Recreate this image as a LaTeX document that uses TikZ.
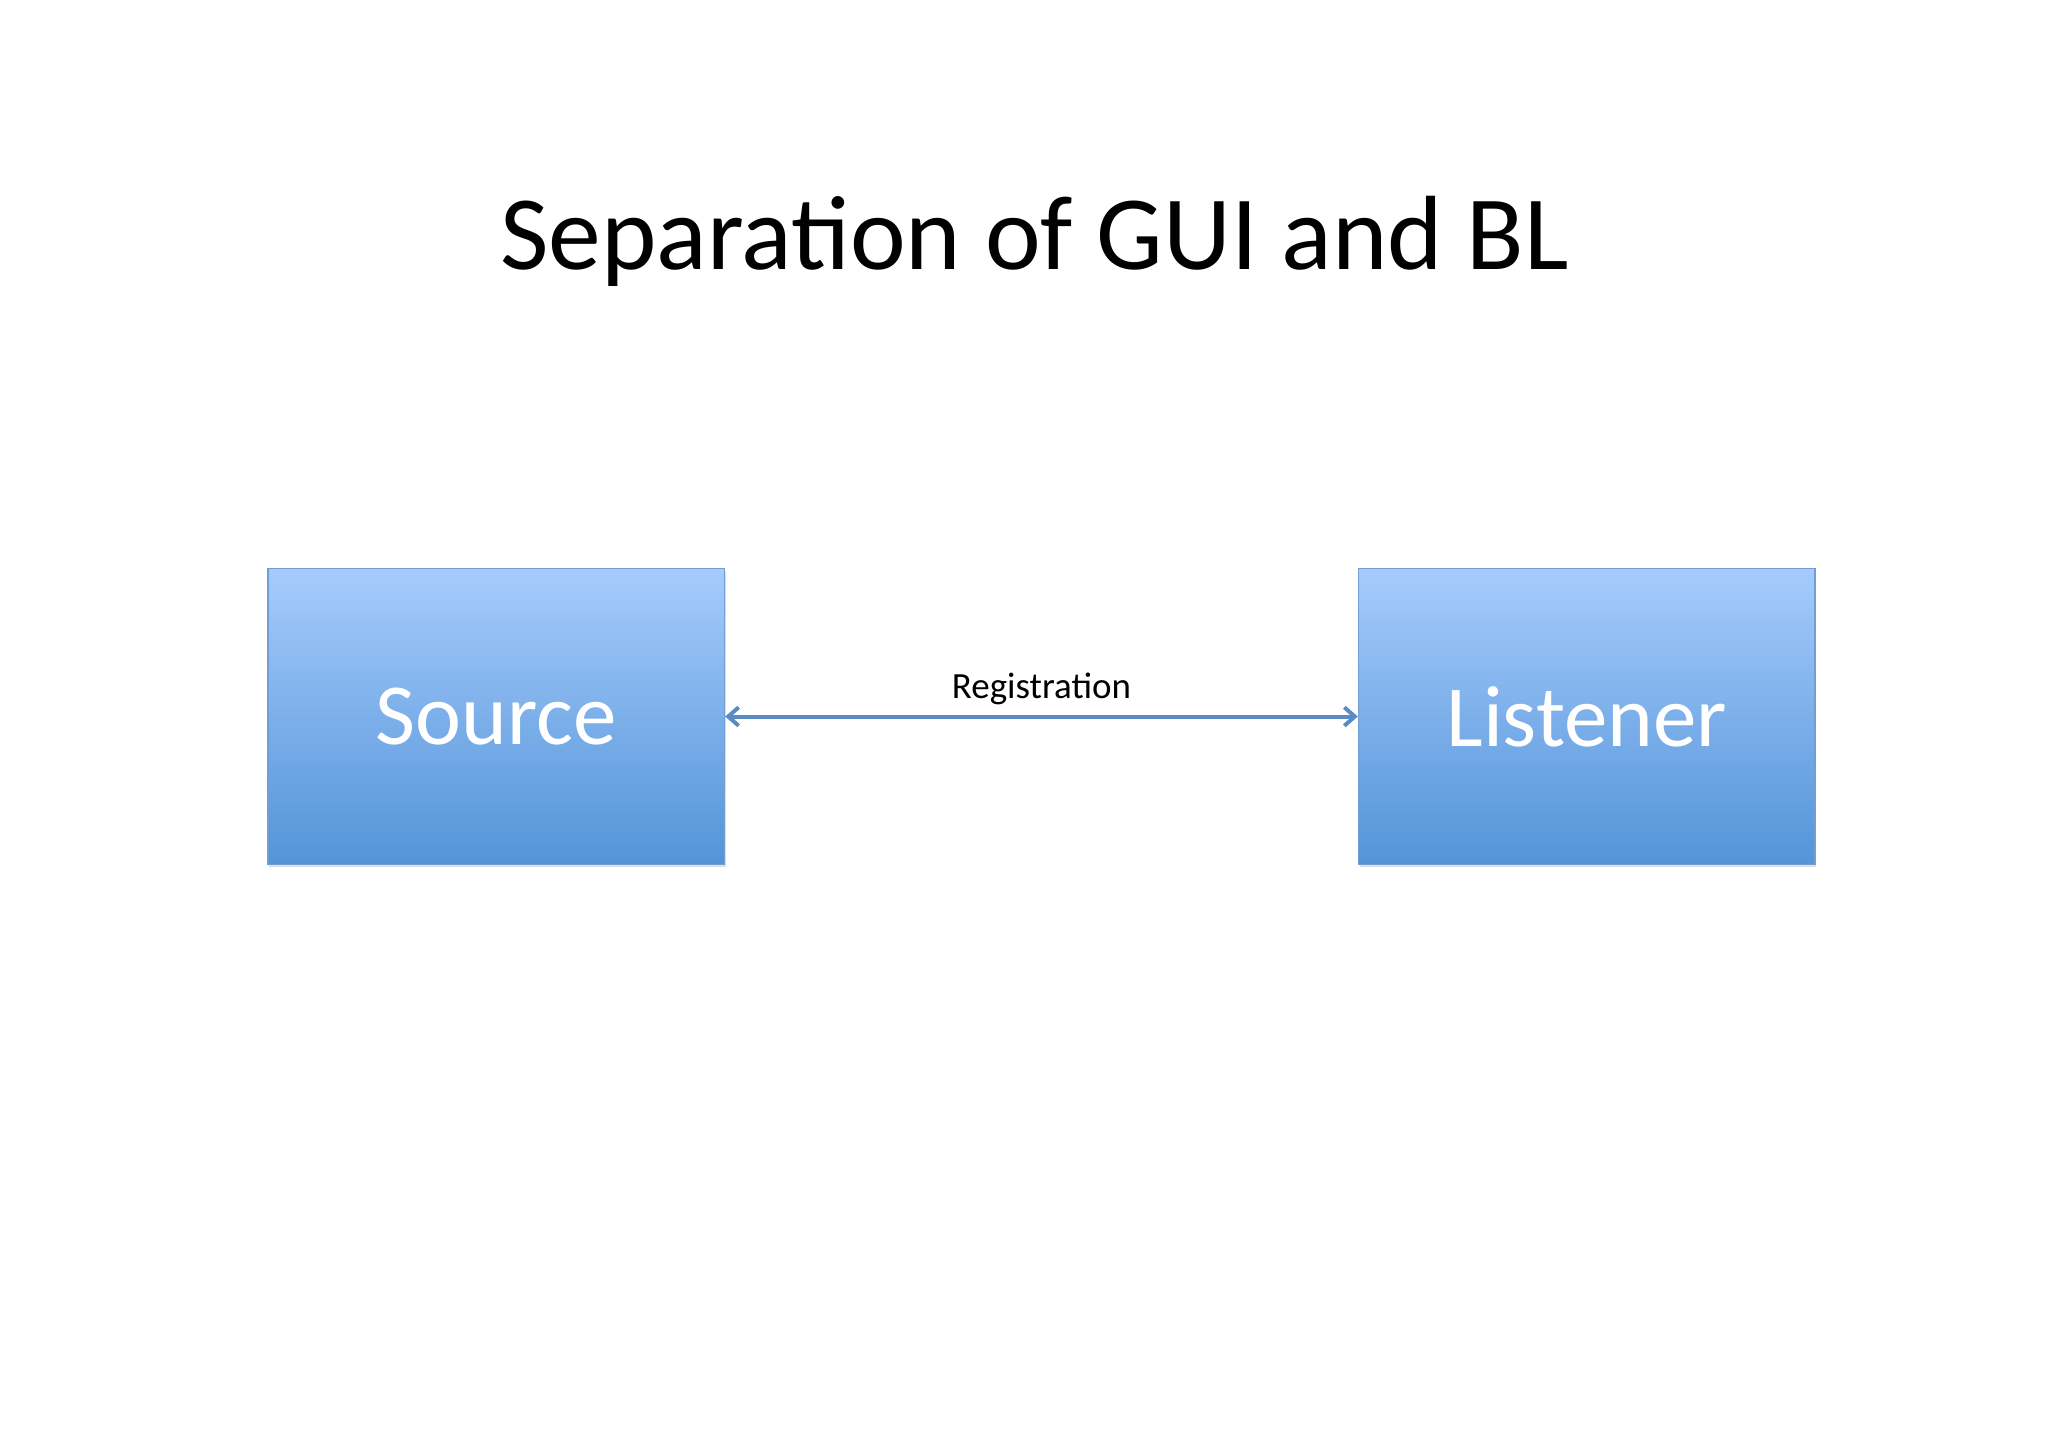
\documentclass[tikz,border=0pt]{standalone}
\usepackage{fontspec}
\setmainfont{Carlito}
\usetikzlibrary{arrows.meta,shadows}
\definecolor{boxtop}{HTML}{A6CBFC}
\definecolor{boxbot}{HTML}{5394D8}
\definecolor{boxline}{HTML}{6F9FD6}
\definecolor{arr}{HTML}{5B8BC3}
\begin{document}
\begin{tikzpicture}[x=1pt,y=-1pt,
  box/.style={draw=boxline,line width=1pt,top color=boxtop,bottom color=boxbot,
    minimum width=346pt,minimum height=224pt,inner sep=0pt,
    font=\fontsize{66}{70}\selectfont,text=white,
    drop shadow={opacity=0.25,shadow xshift=1pt,shadow yshift=-2pt}}]
\useasboundingbox (0,0) rectangle (1552,1097);
\node[font=\fontsize{80}{90}\selectfont] (title) at (784,183) {Separation of GUI and BL};
\node[box] (src) at (376,543) {Source};
\node[box] (lis) at (1202.5,543) {Listener};
\draw[arr,line width=3pt,{Straight Barb[length=8pt,width=14pt]}-{Straight Barb[length=8pt,width=14pt]}]
  (src.east) -- node[above=4pt,text=black,font=\fontsize{28}{30}\selectfont] (lab) {Registration} (lis.west);
\end{tikzpicture}
\end{document}
